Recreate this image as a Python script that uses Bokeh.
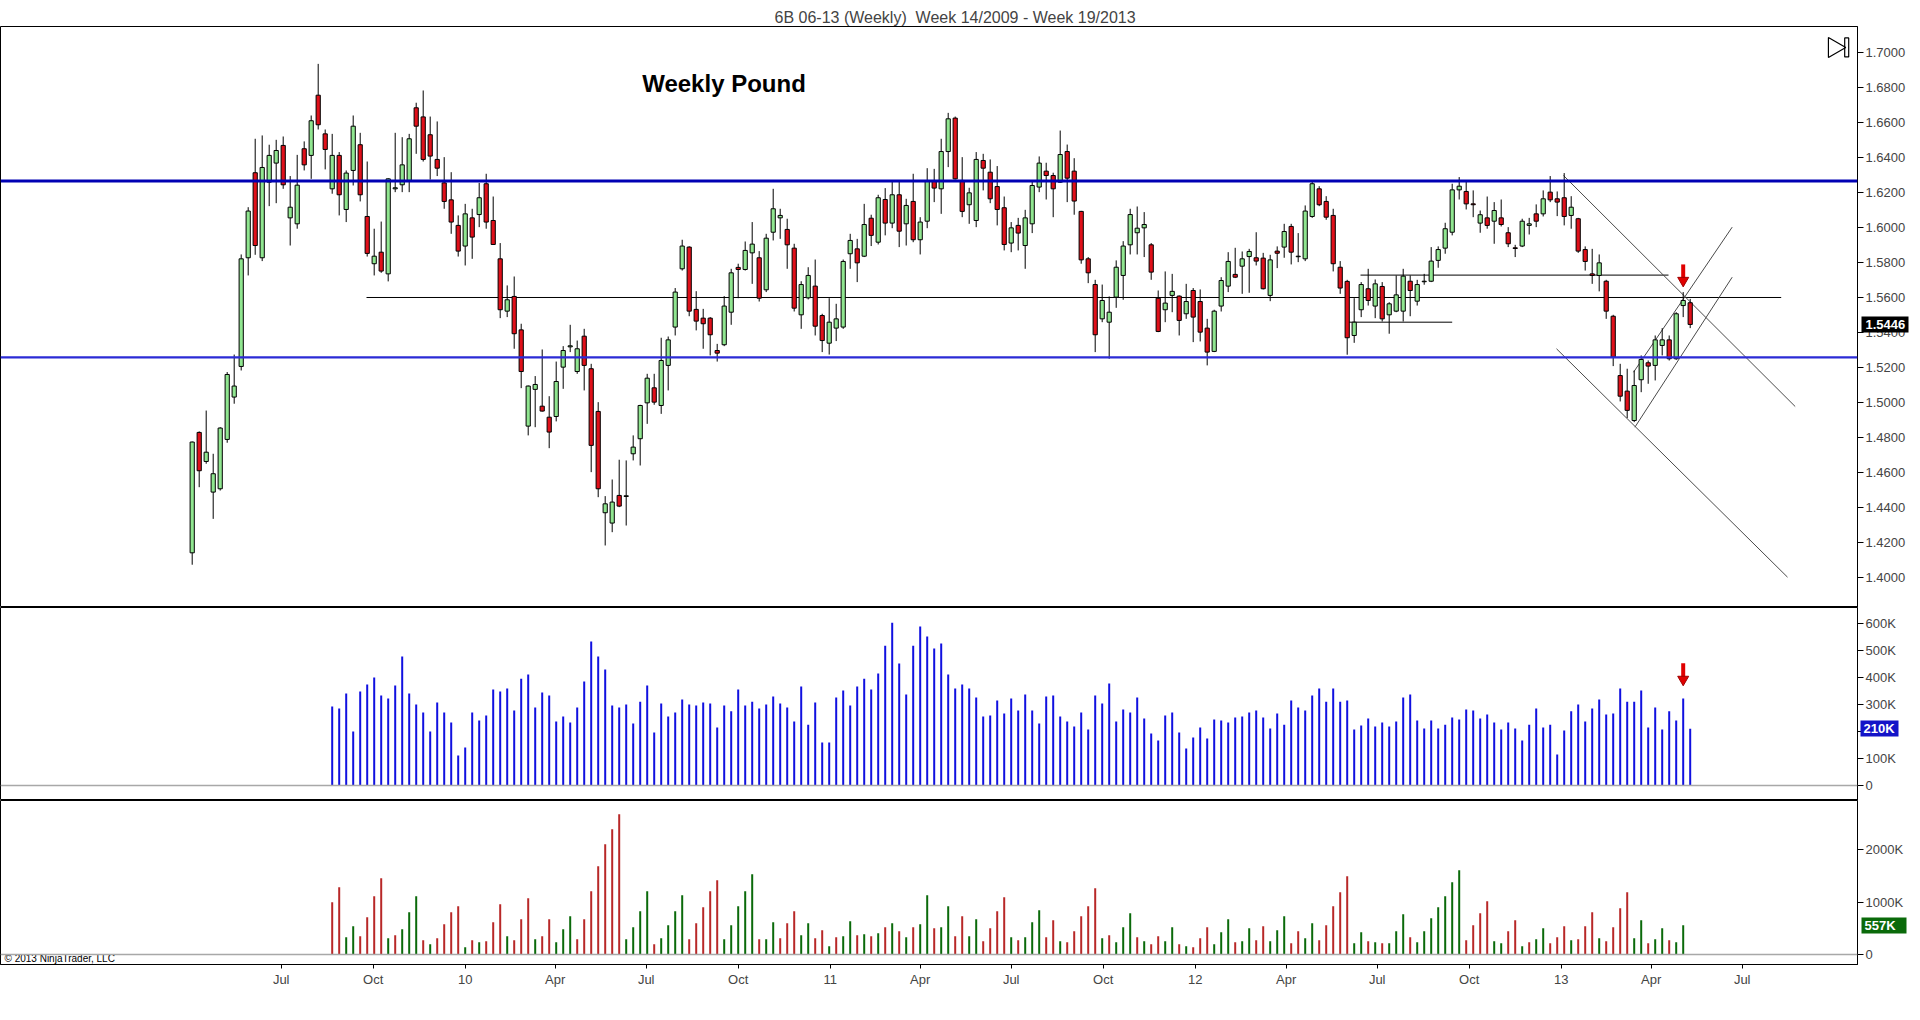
import numpy as np
import pandas as pd
from bokeh.plotting import figure
from bokeh.layouts import column
from bokeh.models import (ColumnDataSource, Range1d, Span, FixedTicker, LinearAxis,
                          PrintfTickFormatter, CustomJSTickFormatter)
from bokeh.core.properties import value
from bokeh.embed import file_html
from bokeh.resources import INLINE

TITLE = "6B 06-13 (Weekly)\u00a0 Week 14/2009 - Week 19/2013"
CHART_LABEL = "Weekly Pound"
COPYRIGHT = "\u00a9 2013 NinjaTrader, LLC"
FIRST_BAR = "2009-04-03"   # weekly bars, one per week

opens = [1.4141,1.4829,1.4663,1.4488,1.4507,1.4789,1.5031,1.5206,1.5827,1.6313,
         1.5827,1.6259,1.6368,1.6469,1.6055,1.6021,1.6450,1.6412,1.6756,1.6535,
         1.6221,1.6412,1.6103,1.6326,1.6473,1.6063,1.5793,1.5859,1.5735,1.6221,
         1.6244,1.6269,1.6684,1.6632,1.6530,1.6389,1.6255,1.6158,1.6012,1.5894,
         1.6055,1.6074,1.6250,1.6040,1.5821,1.5522,1.5606,1.5415,1.4865,1.5075,
         1.4979,1.4916,1.4920,1.5202,1.5318,1.5177,1.5379,1.5193,1.4949,1.4370,
         1.4311,1.4469,1.4463,1.4707,1.4793,1.4998,1.5084,1.4983,1.5212,1.5431,
         1.5764,1.5888,1.5532,1.5482,1.5482,1.5297,1.5330,1.5516,1.5772,1.5760,
         1.5855,1.5827,1.5644,1.5973,1.6055,1.5989,1.5882,1.5501,1.5598,1.5665,
         1.5497,1.5339,1.5425,1.5431,1.5850,1.5878,1.5836,1.6053,1.5916,1.6160,
         1.6025,1.6187,1.6021,1.6149,1.5930,1.6036,1.6263,1.6221,1.6434,1.6625,
         1.6269,1.6130,1.6040,1.6383,1.6316,1.6234,1.6113,1.5911,1.6012,1.5897,
         1.6021,1.6231,1.6322,1.6297,1.6259,1.6434,1.6322,1.6092,1.5821,1.5674,
         1.5478,1.5459,1.5602,1.5726,1.5901,1.5970,1.5998,1.5901,1.5596,1.5530,
         1.5612,1.5608,1.5507,1.5640,1.5577,1.5425,1.5292,1.5551,1.5665,1.5732,
         1.5779,1.5834,1.5827,1.5825,1.5612,1.5865,1.5888,1.6006,1.5833,1.5821,
         1.6063,1.6221,1.6149,1.6069,1.5773,1.5692,1.5383,1.5530,1.5650,1.5551,
         1.5663,1.5501,1.5522,1.5522,1.5693,1.5579,1.5690,1.5693,1.5812,1.5882,
         1.5973,1.6215,1.6206,1.6135,1.6025,1.6055,1.6036,1.6055,1.5970,1.5884,
         1.5894,1.6012,1.6078,1.6078,1.6202,1.6164,1.6170,1.6069,1.6050,1.5874,
         1.5735,1.5726,1.5693,1.5493,1.5154,1.5065,1.4897,1.5130,1.5227,1.5212,
         1.5326,1.5358,1.5250,1.5554,1.5570]
highs = [1.4777,1.4835,1.4954,1.4707,1.4859,1.5174,1.5274,1.5846,1.6116,1.6507,
         1.6526,1.6473,1.6501,1.6520,1.6294,1.6415,1.6492,1.6640,1.6935,1.6560,
         1.6535,1.6431,1.6326,1.6640,1.6541,1.6377,1.5993,1.6034,1.6282,1.6541,
         1.6516,1.6535,1.6713,1.6783,1.6634,1.6606,1.6402,1.6316,1.6069,1.6135,
         1.6107,1.6255,1.6307,1.6177,1.5911,1.5669,1.5720,1.5450,1.5097,1.5151,
         1.5303,1.5036,1.5234,1.5322,1.5444,1.5354,1.5421,1.5221,1.5002,1.4465,
         1.4560,1.4673,1.4669,1.4812,1.4987,1.5164,1.5164,1.5370,1.5377,1.5654,
         1.5930,1.5893,1.5636,1.5535,1.5488,1.5335,1.5608,1.5764,1.5793,1.5920,
         1.6031,1.5865,1.5964,1.6221,1.6107,1.6050,1.5907,1.5693,1.5773,1.5817,
         1.5507,1.5596,1.5564,1.5817,1.5964,1.5935,1.6135,1.6073,1.6187,1.6225,
         1.6269,1.6263,1.6164,1.6307,1.6059,1.6339,1.6335,1.6507,1.6655,1.6634,
         1.6402,1.6227,1.6431,1.6421,1.6389,1.6351,1.6177,1.6031,1.6055,1.6101,
         1.6263,1.6406,1.6370,1.6313,1.6554,1.6474,1.6396,1.6095,1.5831,1.5701,
         1.5674,1.5606,1.5812,1.5922,1.6107,1.6120,1.6088,1.5911,1.5640,1.5749,
         1.5735,1.5612,1.5678,1.5654,1.5646,1.5478,1.5530,1.5716,1.5859,1.5884,
         1.5863,1.5878,1.5973,1.5855,1.5844,1.5892,1.6021,1.6021,1.5968,1.6126,
         1.6269,1.6236,1.6179,1.6107,1.5808,1.5701,1.5596,1.5688,1.5764,1.5703,
         1.5688,1.5573,1.5726,1.5764,1.5726,1.5701,1.5735,1.5888,1.5892,1.6027,
         1.6250,1.6288,1.6269,1.6212,1.6097,1.6177,1.6145,1.6160,1.6002,1.5901,
         1.6050,1.6055,1.6132,1.6212,1.6294,1.6206,1.6311,1.6179,1.6055,1.5892,
         1.5878,1.5846,1.5701,1.5501,1.5221,1.5193,1.5183,1.5269,1.5240,1.5383,
         1.5425,1.5383,1.5516,1.5631,1.5592]
lows = [1.4073,1.4516,1.4650,1.4335,1.4497,1.4770,1.4993,1.5183,1.5726,1.5844,
        1.5808,1.6122,1.6139,1.6221,1.5897,1.5993,1.6326,1.6278,1.6560,1.6332,
        1.6193,1.6069,1.6031,1.6240,1.6149,1.5834,1.5726,1.5741,1.5692,1.6202,
        1.6202,1.6202,1.6421,1.6377,1.6274,1.6294,1.6107,1.5964,1.5834,1.5783,
        1.5821,1.6002,1.5993,1.5901,1.5482,1.5488,1.5307,1.5082,1.4812,1.4859,
        1.4948,1.4739,1.4892,1.5078,1.5288,1.5164,1.5069,1.4602,1.4459,1.4183,
        1.4259,1.4402,1.4297,1.4669,1.4640,1.4878,1.4987,1.4935,1.5069,1.5383,
        1.5754,1.5493,1.5412,1.5307,1.5269,1.5234,1.5322,1.5444,1.5596,1.5754,
        1.5678,1.5577,1.5631,1.5926,1.5935,1.5764,1.5520,1.5421,1.5589,1.5383,
        1.5288,1.5274,1.5351,1.5421,1.5764,1.5688,1.5831,1.5894,1.5903,1.5955,
        1.5996,1.5888,1.5897,1.5916,1.5846,1.5996,1.6145,1.6078,1.6345,1.6274,
        1.6059,1.6021,1.6002,1.6212,1.6139,1.6012,1.5869,1.5859,1.5869,1.5764,
        1.5968,1.6202,1.6160,1.6059,1.6255,1.6145,1.6073,1.5793,1.5682,1.5288,
        1.5459,1.5250,1.5541,1.5587,1.5846,1.5846,1.5831,1.5701,1.5402,1.5459,
        1.5516,1.5383,1.5478,1.5345,1.5349,1.5212,1.5288,1.5520,1.5631,1.5711,
        1.5621,1.5627,1.5783,1.5646,1.5579,1.5768,1.5827,1.5789,1.5802,1.5808,
        1.6055,1.6122,1.6044,1.5749,1.5621,1.5273,1.5341,1.5488,1.5554,1.5482,
        1.5463,1.5393,1.5516,1.5463,1.5493,1.5554,1.5673,1.5688,1.5770,1.5850,
        1.5955,1.6160,1.6103,1.6059,1.5970,1.5993,1.5907,1.6006,1.5888,1.5831,
        1.5888,1.5960,1.6002,1.6063,1.6145,1.6065,1.6012,1.5993,1.5855,1.5754,
        1.5678,1.5635,1.5478,1.5208,1.5006,1.4911,1.4888,1.5059,1.5107,1.5126,
        1.5269,1.5240,1.5244,1.5488,1.5425]
closes = [1.4774,1.4610,1.4716,1.4593,1.4854,1.5160,1.5094,1.5821,1.6094,1.5897,
          1.6343,1.6412,1.6440,1.6244,1.6116,1.6242,1.6358,1.6610,1.6587,1.6446,
          1.6412,1.6187,1.6311,1.6579,1.6187,1.5852,1.5836,1.5751,1.6278,1.6227,
          1.6358,1.6507,1.6579,1.6389,1.6408,1.6339,1.6149,1.6031,1.5865,1.6078,
          1.5945,1.6170,1.6031,1.5903,1.5530,1.5587,1.5393,1.5177,1.5094,1.5103,
          1.4951,1.4831,1.5120,1.5297,1.5324,1.5307,1.5212,1.4755,1.4507,1.4421,
          1.4431,1.4408,1.4467,1.4745,1.4983,1.5139,1.5002,1.5240,1.5358,1.5631,
          1.5894,1.5522,1.5465,1.5450,1.5387,1.5282,1.5551,1.5741,1.5760,1.5869,
          1.5905,1.5596,1.5939,1.6107,1.6069,1.5901,1.5539,1.5674,1.5726,1.5436,
          1.5354,1.5459,1.5478,1.5806,1.5926,1.5798,1.6017,1.5955,1.6170,1.6025,
          1.6187,1.5979,1.6126,1.5930,1.6031,1.6263,1.6225,1.6434,1.6621,1.6278,
          1.6092,1.6198,1.6389,1.6339,1.6164,1.6103,1.5903,1.5998,1.5968,1.6055,
          1.6240,1.6368,1.6297,1.6221,1.6417,1.6282,1.6151,1.5815,1.5741,1.5387,
          1.5583,1.5516,1.5773,1.5894,1.6074,1.5996,1.6017,1.5745,1.5406,1.5568,
          1.5635,1.5469,1.5577,1.5488,1.5402,1.5288,1.5522,1.5697,1.5806,1.5716,
          1.5821,1.5863,1.5808,1.5650,1.5815,1.5853,1.5977,1.5859,1.5836,1.6094,
          1.6250,1.6130,1.6059,1.5793,1.5654,1.5370,1.5459,1.5674,1.5583,1.5678,
          1.5478,1.5564,1.5615,1.5722,1.5640,1.5674,1.5693,1.5808,1.5874,1.5993,
          1.6215,1.6236,1.6135,1.6130,1.6073,1.6012,1.6097,1.6017,1.5907,1.5880,
          1.6036,1.6021,1.6036,1.6164,1.6158,1.6145,1.6063,1.6116,1.5865,1.5806,
          1.5726,1.5798,1.5522,1.5259,1.5036,1.4955,1.5097,1.5246,1.5208,1.5358,
          1.5358,1.5250,1.5507,1.5583,1.5446]

# Volume (thousands of contracts), starting at bar number VOLUME_FIRST_BAR
VOLUME_FIRST_BAR = 20
volume_k = [292,285,340,200,347,373,399,333,322,370,
            477,340,299,270,200,307,270,233,111,140,
            270,240,259,355,347,359,277,395,410,288,
            344,333,237,255,233,288,384,532,477,429,
            296,288,299,229,310,370,196,303,255,270,
            318,299,296,307,303,214,296,274,355,296,
            310,285,299,329,303,288,237,366,225,307,
            159,159,325,351,296,366,395,355,414,517,
            602,451,336,517,588,551,506,525,410,359,
            373,359,325,255,259,314,266,322,277,336,
            277,229,329,333,255,237,218,270,207,333,
            303,377,237,281,270,325,248,192,166,259,
            270,196,137,177,214,174,244,240,233,251,
            255,270,277,251,211,266,225,314,288,277,
            333,359,310,359,310,314,207,222,248,218,
            233,218,237,325,336,240,211,240,211,225,
            251,244,281,277,248,262,233,207,233,211,
            166,225,285,214,225,115,203,274,299,237,
            285,318,262,266,359,310,310,351,214,288,
            207,274,240,322,210]

# Second lower panel (thousands), up/down coloured, starting at bar VOL2_FIRST_BAR
VOL2_FIRST_BAR = 20
vol2_k = [997,1283,330,540,349,711,1111,1454,311,368,
          483,806,1111,273,197,311,578,806,921,140,
          273,235,254,616,959,349,273,673,1073,292,
          349,673,235,483,730,292,673,1207,1683,2102,
          2388,2673,292,521,826,1207,197,311,559,826,
          1130,292,597,902,1207,1416,292,559,921,1207,
          1530,292,292,616,311,597,826,368,597,311,
          464,159,330,349,635,368,387,349,406,521,
          597,445,330,521,578,1130,502,521,921,349,
          730,349,673,254,502,826,1092,330,273,330,
          616,845,330,654,254,235,445,730,921,1264,
          311,368,235,521,787,330,254,197,349,254,
          521,197,159,140,311,521,197,425,673,235,
          254,502,273,540,254,464,730,216,445,311,
          597,273,559,921,1187,1492,216,425,254,235,
          216,216,445,768,330,235,445,692,902,1111,
          1378,1607,273,559,787,1016,254,216,445,654,
          159,235,292,502,216,330,540,273,292,540,
          806,311,254,521,883,1187,311,654,216,292,
          502,273,235,557]
vol2_dir = list("dduuddddud" "uuududdddu" "dudddudddu" "dduuuddddd" "dduuuuduuu"
                "uddddduuuu" "uduuddduud" "duduududud" "ududuuduud" "duuddddudu"
                "uudduddddd" "uduuududdu" "ududdduuud" "uudduuuddu" "uddddduudu"
                "duuuduuuuu" "uudddduudd" "uduudddudd" "dudddduudu" "uduu")

# Drawn levels and trend channel (bar number, price)
resistance = 1.6265
support = 1.5258
hline_price = [1.5600, 1.5728, 1.5459]
hline_from_bar = [24.9, 166.9, 165.2]
hline_to_bar = [227.0, 210.9, 180.0]
chan_bar0 = [195.9, 194.9, 205.9, 206.1]
chan_price0 = [1.6297, 1.5307, 1.5173, 1.4859]
chan_bar1 = [229.0, 227.9, 220.0, 220.0]
chan_price1 = [1.4977, 1.4002, 1.6002, 1.5716]
signal_bar = 213

price_ticks = [1.40, 1.42, 1.44, 1.46, 1.48, 1.50, 1.52, 1.54, 1.56, 1.58,
               1.60, 1.62, 1.64, 1.66, 1.68, 1.70]
volume_ticks = [0, 100000, 200000, 300000, 400000, 500000, 600000]
vol2_ticks = [0, 1000000, 2000000]

# ---------------------------------------------------------------------------
FONT = "Liberation Sans"
DAY = 86400000.0
WEEK = 7 * DAY
UP_FILL = "#90e690"
DN_FILL = "#e0101a"
ARROW_RED = "#e00000"
FRAME_W = 1857

n = len(closes)
bar_dates = pd.date_range(FIRST_BAR, periods=n, freq="7D")
xs = (bar_dates.asi8 // 10**6).astype(float)
t0 = xs[0]


def bar_x(b):
    return t0 + np.asarray(b, dtype=float) * WEEK


x_range = Range1d(t0 - 191.7 * DAY, t0 + 1665.3 * DAY)
k_code = "return tick == 0 ? '0' : (tick / 1000).toFixed(0) + 'K';"


def make_fig(frame_h, y_range, top, bottom, show_x):
    p = figure(frame_width=FRAME_W, frame_height=frame_h, x_range=x_range, y_range=y_range,
               x_axis_type="datetime", x_axis_location="below" if show_x else None,
               y_axis_location="right", toolbar_location=None, output_backend="svg",
               min_border_left=0, min_border_right=55, min_border_top=top,
               min_border_bottom=bottom, background_fill_color="white",
               border_fill_color="white", outline_line_color="black")
    p.xgrid.grid_line_color = None
    p.ygrid.grid_line_color = None
    ax = p.yaxis[0]
    ax.major_tick_in = 0
    ax.major_tick_out = 6
    ax.minor_tick_line_color = None
    ax.axis_line_color = "black"
    ax.major_label_text_font = FONT
    ax.major_label_text_font_size = "13px"
    ax.major_label_standoff = 2
    return p


def value_tag(p, y, formatter, color, tick_in, standoff):
    # last-value marker drawn by a second right axis: a wide tick is the box
    ax = LinearAxis(ticker=FixedTicker(ticks=[y]), formatter=formatter)
    ax.axis_line_color = None
    ax.major_tick_in = tick_in
    ax.major_tick_out = 0
    ax.major_tick_line_width = 16
    ax.major_tick_line_color = color
    ax.minor_tick_line_color = None
    ax.major_label_standoff = standoff
    ax.major_label_text_color = "white"
    ax.major_label_text_font = FONT
    ax.major_label_text_font_size = "13px"
    ax.major_label_text_font_style = "bold"
    p.add_layout(ax, "right")


# ---------------- price panel ----------------
p1 = make_fig(581, Range1d(1.382857, 1.714857), 26, 0, False)
p1.title.text = TITLE
p1.title.align = "left"
p1.title.offset = 774
p1.title.text_font = FONT
p1.title.text_font_size = "16px"
p1.title.text_font_style = "normal"
p1.title.standoff = 2
p1.yaxis[0].ticker = FixedTicker(ticks=price_ticks)
p1.yaxis[0].formatter = PrintfTickFormatter(format="%.4f")

p1.add_layout(Span(location=resistance, dimension="width", line_color="#0000b4", line_width=3))
p1.add_layout(Span(location=support, dimension="width", line_color="#2b2bd6", line_width=2.2))
p1.segment(x0=bar_x(hline_from_bar), y0=hline_price, x1=bar_x(hline_to_bar), y1=hline_price,
           line_color="black", line_width=1)
p1.segment(x0=bar_x(chan_bar0), y0=chan_price0, x1=bar_x(chan_bar1), y1=chan_price1,
           line_color="#4a4a4a", line_width=1)

o = np.array(opens); h = np.array(highs); lo = np.array(lows); c = np.array(closes)
up = c >= o
for mask, fill, top_col, bot_col in [(up, UP_FILL, "c", "o"), (~up, DN_FILL, "o", "c")]:
    src = ColumnDataSource(dict(x=xs[mask], o=o[mask], h=h[mask], l=lo[mask], c=c[mask]))
    p1.segment(x0="x", y0="h", x1="x", y1="l", source=src, line_color="black", line_width=1)
    p1.vbar(x="x", width=0.6 * WEEK, top=top_col, bottom=bot_col, source=src,
            fill_color=fill, line_color="black", line_width=1)

p1.text(x=[t0 + 450 * DAY], y=[1.6823], text=[CHART_LABEL], text_font=value(FONT),
        text_font_size="24px", text_font_style="bold", text_color="black",
        text_align="left", text_baseline="alphabetic")

sx = xs[signal_bar]
p1.segment(x0=[sx], y0=[1.5789], x1=[sx], y1=[1.5706], line_color=ARROW_RED, line_width=4)
p1.scatter(x=[sx], y=[1.5697], marker="inverted_triangle", size=11,
           fill_color=ARROW_RED, line_color="#a00000")

# "go to end" icon
p1.scatter(x=[t0 + 1642 * DAY], y=[1.7029], marker="triangle", size=20, angle=-np.pi / 2,
           fill_alpha=0, line_color="black", line_width=1.2)
p1.rect(x=[t0 + 1654.5 * DAY], y=[1.7029], width=4, height=19, width_units="screen",
        height_units="screen", fill_alpha=0, line_color="black", line_width=1.2)

value_tag(p1, closes[-1], PrintfTickFormatter(format="%.4f"), "black", 47, -43)

# ---------------- volume panel ----------------
vol = np.array(volume_k) * 1000.0
vx = bar_x(VOLUME_FIRST_BAR + np.arange(len(vol)))
p2 = make_fig(193, Range1d(-55500, 658000), 0, 0, False)
p2.yaxis[0].ticker = FixedTicker(ticks=volume_ticks)
p2.yaxis[0].formatter = CustomJSTickFormatter(code=k_code)
p2.add_layout(Span(location=0, dimension="width", line_color="#a8a8a8", line_width=1.5))
p2.segment(x0=vx, y0=np.zeros(len(vol)), x1=vx, y1=vol, line_color="#1010e0", line_width=2)
vsx = bar_x(signal_bar)
p2.segment(x0=[vsx], y0=[452000], x1=[vsx], y1=[398000], line_color=ARROW_RED, line_width=4)
p2.scatter(x=[vsx], y=[392000], marker="inverted_triangle", size=11,
           fill_color=ARROW_RED, line_color="#a00000")
value_tag(p2, vol[-1], CustomJSTickFormatter(code=k_code), "#1414c8", 38, -35)

# ---------------- second volume panel ----------------
v2 = np.array(vol2_k) * 1000.0
v2x = bar_x(VOL2_FIRST_BAR + np.arange(len(v2)))
v2up = np.array([d == "u" for d in vol2_dir])
p3 = make_fig(164, Range1d(-190000, 2934000), 0, 52, True)
p3.yaxis[0].ticker = FixedTicker(ticks=vol2_ticks)
p3.yaxis[0].formatter = CustomJSTickFormatter(code=k_code)
p3.add_layout(Span(location=0, dimension="width", line_color="#a8a8a8", line_width=1.5))
p3.segment(x0=v2x[v2up], y0=np.zeros(v2up.sum()), x1=v2x[v2up], y1=v2[v2up],
           line_color="#0a6a0a", line_width=2)
p3.segment(x0=v2x[~v2up], y0=np.zeros((~v2up).sum()), x1=v2x[~v2up], y1=v2[~v2up],
           line_color="#b82828", line_width=2)
value_tag(p3, v2[-1], CustomJSTickFormatter(code=k_code),
          "#0a6a0a" if v2up[-1] else "#b82828", 45, -42)
p3.text(x=[t0 - 187.7 * DAY], y=[-70000], text=[COPYRIGHT], text_font=value(FONT),
        text_font_size="10px", text_color="black", text_align="left",
        text_baseline="alphabetic")

month_ticks = pd.date_range("2009-07-01", "2013-07-01", freq="QS")
xa = p3.xaxis[0]
xa.ticker = FixedTicker(ticks=list((month_ticks.asi8 // 10**6).astype(float)))
xa.formatter = CustomJSTickFormatter(code="""
const d = new Date(tick);
const m = d.getUTCMonth();
const names = ["Jan","Feb","Mar","Apr","May","Jun","Jul","Aug","Sep","Oct","Nov","Dec"];
if (m === 0) { return String(d.getUTCFullYear()).slice(2); }
return names[m];
""")
xa.major_tick_in = 0
xa.major_tick_out = 4
xa.minor_tick_line_color = None
xa.axis_line_color = "black"
xa.major_label_text_font = FONT
xa.major_label_text_font_size = "13px"
xa.major_label_standoff = 3

layout = column(p1, p2, p3, spacing=0)
open("out.html", "w").write(file_html(layout, INLINE, title="6B 06-13 Weekly"))
